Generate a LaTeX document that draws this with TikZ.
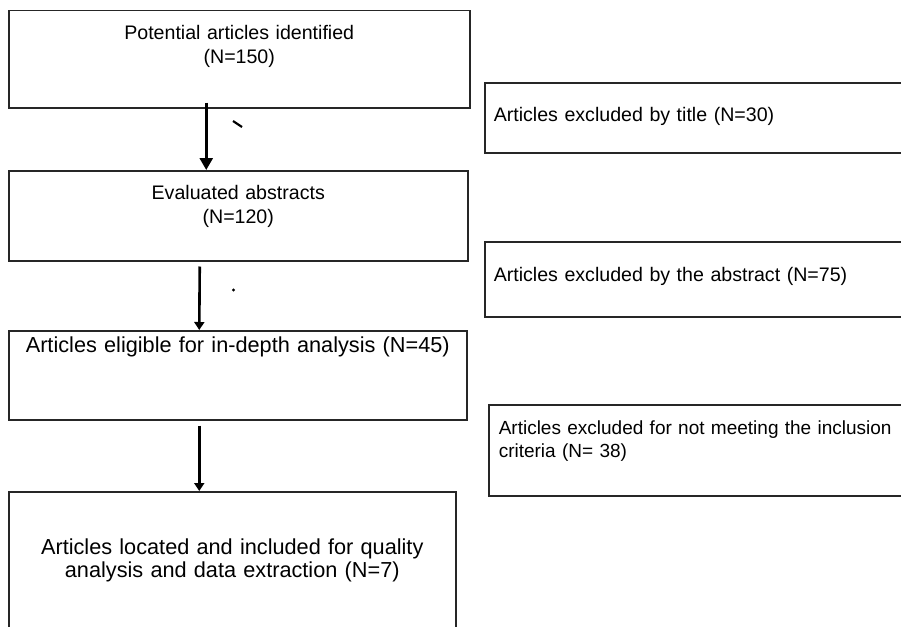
\documentclass[tikz,border=0pt]{standalone}
\usepackage{fontspec}
\setmainfont{Liberation Sans}
\usetikzlibrary{arrows.meta,positioning}

\begin{document}
\begin{tikzpicture}[
  x=1pt, y=-1pt,
  box/.style={rectangle, draw=black!85, line width=1.5pt, inner sep=0pt, anchor=north west, align=center, font=\fontsize{19.6}{23.5}\selectfont},
  bigbox/.style={box, font=\fontsize{21.7}{23.5}\selectfont},
  sidebox/.style={box, align=left, inner xsep=9pt, text width=420pt},
  arrow/.style={-{Triangle[length=8pt, width=10pt]}, line width=2.6pt},
  bigarrow/.style={arrow, -{Triangle[length=12pt, width=13pt]}}
]
\clip (0,0) rectangle (901,626);
% main column
\node[box, text width=461pt, text height=29pt, text depth=68pt] (identified) at (8,10) {Potential articles identified\\(N=150)};
\node[box, text width=459pt, text height=29pt, text depth=61pt] (abstracts) at (8,170) {Evaluated abstracts\\(N=120)};
\node[bigbox, text width=458pt, text height=21.5pt, text depth=67.5pt] (eligible) at (8,330) {Articles eligible for in-depth analysis (N=45)};
\node[bigbox, text width=447pt, text height=62.5pt, text depth=77.5pt] (included) at (8,491) {Articles located and included for quality\\analysis and data extraction (N=7)};
% excluded
\node[sidebox, text height=39pt, text depth=31pt] (bytitle) at (484,82) {Articles excluded by title (N=30)};
\node[sidebox, text height=40pt, text depth=35pt] (byabstract) at (484,241) {Articles excluded by the abstract (N=75)};
\node[sidebox, inner xsep=10pt, font=\fontsize{19}{22.6}\selectfont, text height=30pt, text depth=61pt] (bycriteria) at (488,404) {Articles excluded for not meeting the inclusion\\criteria (N= 38)};

\draw[bigarrow] ([xshift=-33pt, yshift=6pt]identified.south) -- ([xshift=-32pt]abstracts.north);
\draw[arrow] ([xshift=-38.5pt, yshift=-5pt]abstracts.south) -- ([xshift=-38.5pt]eligible.north);
\draw[arrow] ([xshift=-38.5pt, yshift=-5pt]eligible.south) -- ([xshift=-33pt]included.north);

% stray marks
\draw[line width=2.2pt] (233,121) -- (242,127);
\fill (233.5,290) circle (1.6);
\end{tikzpicture}
\end{document}
